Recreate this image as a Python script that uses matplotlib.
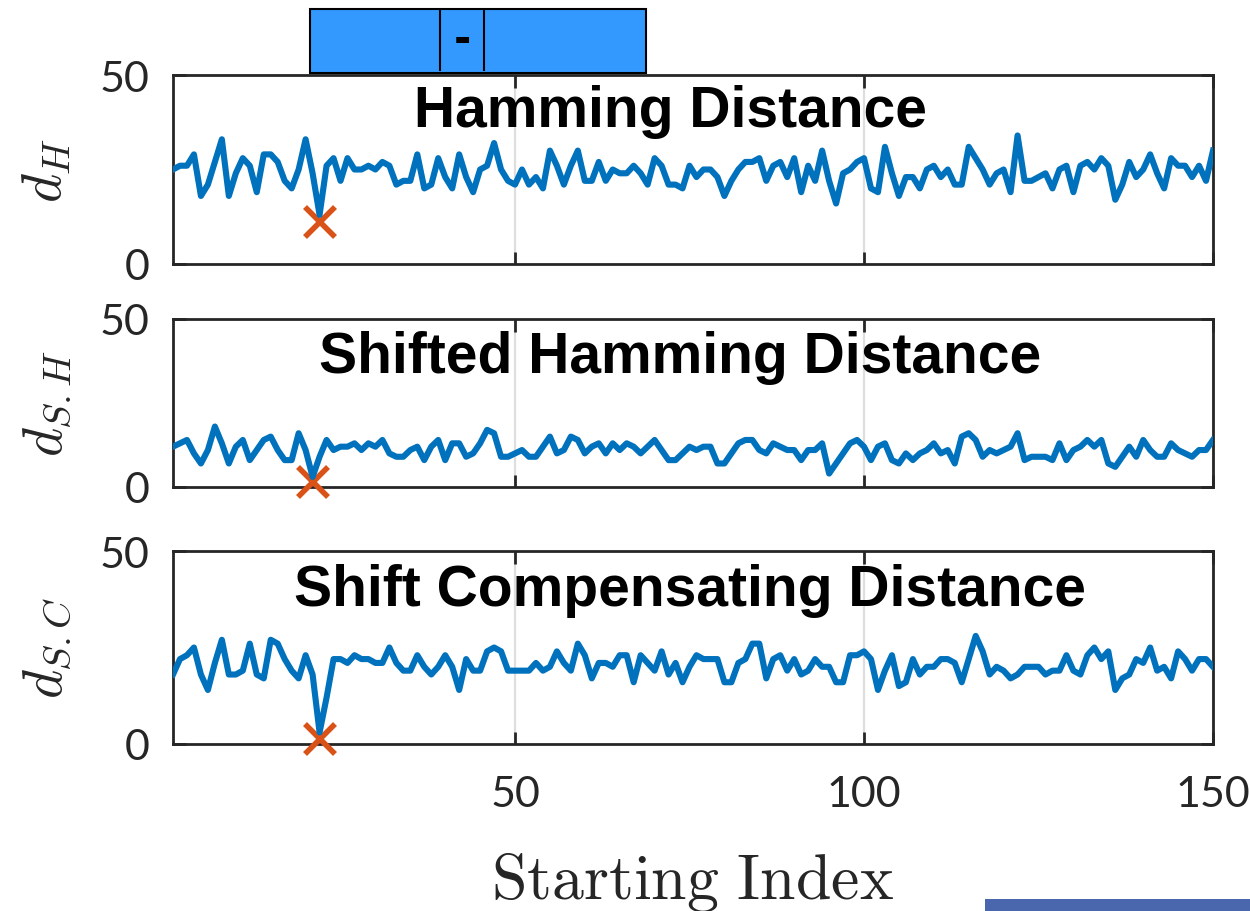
import matplotlib
matplotlib.use("Agg")
import matplotlib.pyplot as plt
from matplotlib.patches import Rectangle
from matplotlib.lines import Line2D
import numpy as np

# ---- data -------------------------------------------------------------
start_index = np.arange(1, 151)

hamming = [25, 26, 26, 29, 18, 21, 27, 33, 18, 24,
           28, 26, 19, 29, 29, 27, 22, 20, 25, 33,
           24, 13, 26, 28, 22, 28, 25, 25, 26, 25,
           27, 26, 21, 22, 22, 29, 20, 21, 28, 23,
           20, 29, 23, 19, 25, 26, 32, 25, 22, 21,
           25, 21, 23, 20, 30, 26, 21, 26, 30, 22,
           22, 27, 22, 25, 24, 24, 26, 24, 21, 28,
           26, 21, 21, 20, 26, 23, 25, 25, 23, 18,
           22, 25, 27, 27, 28, 22, 26, 27, 23, 28,
           19, 26, 22, 30, 22, 16, 24, 25, 27, 28,
           20, 19, 31, 24, 18, 23, 23, 20, 25, 26,
           23, 25, 21, 21, 31, 28, 25, 21, 24, 25,
           19, 34, 22, 22, 23, 24, 20, 25, 26, 19,
           26, 27, 25, 28, 26, 17, 21, 27, 23, 25,
           29, 24, 20, 28, 26, 26, 23, 26, 22, 30]

shifted_hamming = [12, 13, 14, 10, 7, 11, 18, 13, 7, 12,
                   14, 8, 11, 14, 15, 11, 8, 8, 16, 11,
                   3, 9, 14, 11, 12, 12, 13, 11, 13, 12,
                   14, 10, 9, 9, 11, 12, 8, 12, 14, 8,
                   13, 13, 9, 10, 13, 17, 16, 9, 9, 10,
                   11, 9, 9, 12, 15, 10, 11, 15, 14, 10,
                   12, 13, 10, 13, 11, 13, 12, 10, 12, 14,
                   11, 8, 8, 10, 12, 11, 12, 12, 7, 7,
                   10, 13, 14, 14, 11, 10, 13, 12, 11, 11,
                   8, 11, 11, 13, 4, 7, 10, 13, 14, 12,
                   8, 12, 13, 8, 7, 10, 8, 10, 11, 13,
                   10, 11, 7, 15, 16, 14, 9, 11, 10, 11,
                   12, 16, 8, 9, 9, 9, 8, 13, 8, 11,
                   12, 14, 12, 14, 7, 6, 9, 12, 9, 14,
                   11, 9, 9, 13, 11, 10, 9, 11, 11, 14]

shift_compensating = [18, 22, 23, 25, 18, 14, 21, 27, 18, 18,
                      19, 26, 18, 17, 27, 26, 22, 19, 17, 23,
                      18, 3, 12, 22, 22, 21, 23, 22, 22, 21,
                      21, 25, 21, 19, 19, 23, 20, 18, 20, 23,
                      20, 14, 22, 19, 19, 24, 25, 24, 19, 19,
                      19, 19, 21, 19, 20, 24, 21, 19, 26, 23,
                      17, 21, 21, 20, 23, 23, 16, 23, 21, 19,
                      24, 18, 21, 16, 20, 23, 22, 22, 22, 16,
                      16, 21, 22, 26, 26, 17, 22, 23, 19, 22,
                      18, 19, 22, 20, 20, 16, 16, 23, 23, 24,
                      22, 14, 19, 23, 15, 16, 22, 18, 20, 20,
                      22, 22, 21, 16, 22, 28, 24, 18, 20, 19,
                      17, 18, 20, 20, 20, 18, 19, 19, 23, 19,
                      18, 23, 25, 22, 24, 14, 17, 18, 22, 21,
                      25, 19, 20, 17, 24, 22, 19, 22, 22, 20]

# location of the true alignment in each panel
true_index = [22, 21, 22]
true_value = [11, 1.5, 1.3]

titles = ["Hamming Distance", "Shifted Hamming Distance",
          "Shift Compensating Distance"]
ylabels = [r"$d_H$", r"$d_{S.H}$", r"$d_{S.C}$"]
xtick_values = [50, 100, 150]
ytick_values = [0, 50]

# ---- figure -----------------------------------------------------------
W, H = 1250, 912
plt.rcParams["mathtext.fontset"] = "cm"
fig = plt.figure(figsize=(W / 100, H / 100), dpi=100)

# axes boxes in pixels: (left, top, right, bottom)
boxes = [(173, 76, 1213, 265), (173, 320, 1213, 488), (173, 552, 1213, 745)]
title_pos = [(670, 127), (680, 373), (690, 606)]

ink = "#262626"
series = [hamming, shifted_hamming, shift_compensating]

axes = []
for k, (l, t, r, b) in enumerate(boxes):
    ax = fig.add_axes([l / W, 1 - b / H, (r - l) / W, (b - t) / H])
    axes.append(ax)
    ax.plot([true_index[k]], [true_value[k]], "x", color="#D95319",
            ms=22, mew=4, clip_on=False, zorder=3)
    ax.plot(start_index, series[k], color="#0072BD", lw=4.4, zorder=4,
            solid_joinstyle="round")
    ax.set_xlim(1, 150)
    ax.set_ylim(0, 50)
    ax.set_xticks(xtick_values)
    ax.set_yticks(ytick_values)
    ax.grid(axis="x", color="#dedede", lw=1.6)
    ax.set_axisbelow(True)
    ax.tick_params(direction="in", length=9, width=2, top=True, right=True,
                   color=ink, labelcolor=ink, labelsize=31, pad=17)
    ax.tick_params(axis="x", pad=22)
    for lab in ax.get_xticklabels() + ax.get_yticklabels():
        lab.set_fontfamily("Lato")
    if k < 2:
        ax.tick_params(axis="x", labelbottom=False)
    for s in ax.spines.values():
        s.set_linewidth(2)
        s.set_color(ink)
    ax.set_ylabel(ylabels[k], fontsize=40, color=ink, va="center")
    ax.yaxis.set_label_coords(-0.122, 0.5)
    tx, ty = title_pos[k]
    fig.text(tx / W, 1 - ty / H, titles[k], ha="center", va="baseline",
             fontsize=41, fontweight="bold", family="Liberation Sans",
             color="black")

axes[2].set_xlabel(r"$\mathrm{Starting\ Index}$", fontsize=46, color=ink)
axes[2].xaxis.set_label_coords(0.5, -0.55)

# small selector strip above the first panel
fig.add_artist(Rectangle((310 / W, 1 - 74 / H), 336 / W, 64 / H,
                         transform=fig.transFigure, facecolor="#3399FF",
                         edgecolor="black", lw=1.5))
for xs in (440, 484):
    fig.add_artist(Line2D([xs / W, xs / W], [1 - 12 / H, 1 - 71 / H],
                          transform=fig.transFigure, color="black", lw=1.5))
fig.text(462 / W, 1 - 40 / H, "-", ha="center", va="center", fontsize=30,
         fontweight="bold", color="black")

# bar along the lower right edge
fig.add_artist(Rectangle((985 / W, 0), 265 / W, 12 / H,
                         transform=fig.transFigure, facecolor="#4A67AE",
                         edgecolor="none"))

fig.savefig("out.png", dpi=100)
